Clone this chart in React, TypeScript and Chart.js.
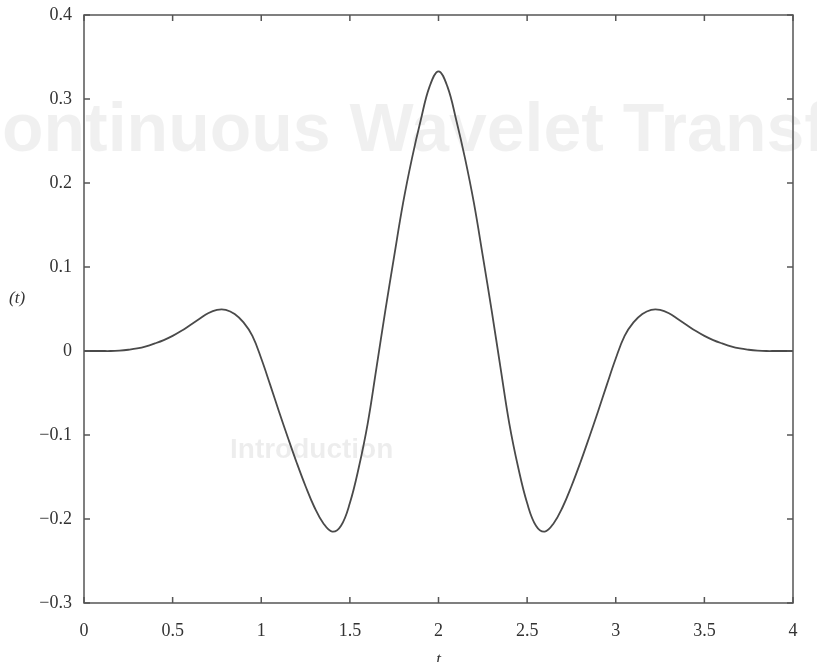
import React, { useEffect, useRef } from "react";
import { Chart, registerables } from "chart.js";

Chart.register(...registerables);

const tValues = [
  0, 0.05, 0.1, 0.15, 0.2, 0.25, 0.3, 0.35, 0.4, 0.45,
  0.5, 0.55, 0.6, 0.65, 0.7, 0.75, 0.8, 0.85, 0.9, 0.95,
  1.0, 1.05, 1.1, 1.15, 1.2, 1.25, 1.3, 1.35, 1.4, 1.45,
  1.5, 1.55, 1.6, 1.65, 1.7, 1.75, 1.8, 1.85, 1.9, 1.95,
  2.0, 2.05, 2.1, 2.15, 2.2, 2.25, 2.3, 2.35, 2.4, 2.45,
  2.5, 2.55, 2.6, 2.65, 2.7, 2.75, 2.8, 2.85, 2.9, 2.95,
  3.0, 3.05, 3.1, 3.15, 3.2, 3.25, 3.3, 3.35, 3.4, 3.45,
  3.5, 3.55, 3.6, 3.65, 3.7, 3.75, 3.8, 3.85, 3.9, 3.95,
  4.0,
];

const psiValues = [
  0, 0, 0, 0, 0.0005, 0.0015, 0.003, 0.0055, 0.009, 0.013,
  0.018, 0.024, 0.031, 0.038, 0.045, 0.049, 0.049, 0.044, 0.034, 0.018,
  -0.009, -0.04, -0.072, -0.103, -0.133, -0.161, -0.186, -0.205, -0.215, -0.208,
  -0.181, -0.139, -0.087, -0.02, 0.048, 0.113, 0.176, 0.229, 0.275, 0.315,
  0.333, 0.315, 0.275, 0.229, 0.176, 0.113, 0.048, -0.02, -0.087, -0.139,
  -0.181, -0.208, -0.215, -0.205, -0.186, -0.161, -0.133, -0.103, -0.072, -0.04,
  -0.009, 0.018, 0.034, 0.044, 0.049, 0.049, 0.045, 0.038, 0.031, 0.024,
  0.018, 0.013, 0.009, 0.0055, 0.003, 0.0015, 0.0005, 0, 0, 0,
  0,
];

const xTickValues = [0, 0.5, 1, 1.5, 2, 2.5, 3, 3.5, 4];
const yTickValues = [-0.3, -0.2, -0.1, 0, 0.1, 0.2, 0.3, 0.4];

const yAxisLabel = "(t)";
const xAxisLabel = "t";
const ghostTitle = "Continuous Wavelet Transform";
const ghostHeading = "Introduction";

const SERIF = "'Liberation Serif', 'DejaVu Serif', serif";
const SANS = "'Liberation Sans', Arial, sans-serif";

const fmtY = (v: number) => {
  if (Math.abs(v) < 1e-9) return "0";
  const s = Math.abs(v).toFixed(1);
  return v < 0 ? "\u2212" + s : s;
};
const fmtX = (v: number) => (Number.isInteger(v) ? String(v) : v.toFixed(1));

const ghostPlugin = {
  id: "ghost",
  beforeDraw(chart: any) {
    const ctx = chart.ctx;
    ctx.save();
    ctx.fillStyle = "rgba(0,0,0,0.06)";
    ctx.font = `bold 68px ${SANS}`;
    const cW = ctx.measureText("C").width;
    ctx.textBaseline = "middle";
    ctx.textAlign = "left";
    ctx.fillText(ghostTitle, 2 - cW, 132);
    ctx.fillStyle = "rgba(0,0,0,0.07)";
    ctx.font = `bold 28px ${SANS}`;
    ctx.fillText(ghostHeading, 230, 450);
    ctx.restore();
  },
};

const framePlugin = {
  id: "frame",
  afterDatasetsDraw(chart: any) {
    const { ctx, chartArea } = chart;
    const { left, right, top, bottom } = chartArea;
    const xs = chart.scales.x;
    const ys = chart.scales.y;
    const tl = 6;
    ctx.save();
    ctx.strokeStyle = "#555";
    ctx.lineWidth = 1.5;
    ctx.strokeRect(left, top, right - left, bottom - top);
    ctx.beginPath();
    xTickValues.forEach((v) => {
      const px = xs.getPixelForValue(v);
      ctx.moveTo(px, bottom);
      ctx.lineTo(px, bottom - tl);
      ctx.moveTo(px, top);
      ctx.lineTo(px, top + tl);
    });
    yTickValues.forEach((v) => {
      const py = ys.getPixelForValue(v);
      ctx.moveTo(left, py);
      ctx.lineTo(left + tl, py);
      ctx.moveTo(right, py);
      ctx.lineTo(right - tl, py);
    });
    ctx.stroke();

    ctx.fillStyle = "#333";
    ctx.font = `italic 17px ${SERIF}`;
    ctx.textAlign = "left";
    ctx.textBaseline = "middle";
    ctx.fillText(yAxisLabel, 9, ys.getPixelForValue(0.062));
    ctx.textAlign = "center";
    ctx.textBaseline = "top";
    ctx.fillText(xAxisLabel, xs.getPixelForValue(2), 651);
    ctx.restore();
  },
};

export default function App() {
  const ref = useRef<HTMLCanvasElement | null>(null);

  useEffect(() => {
    if (!ref.current) return;
    const points = tValues.map((t, i) => ({ x: t, y: psiValues[i] }));
    const chart = new Chart(ref.current, {
      type: "line",
      data: {
        datasets: [
          {
            data: points,
            borderColor: "#4a4a4a",
            borderWidth: 1.8,
            pointRadius: 0,
            fill: false,
            tension: 0.4,
          },
        ],
      },
      options: {
        responsive: false,
        animation: false,
        events: [],
        layout: { padding: { top: 15, right: 24, left: 0, bottom: 0 } },
        plugins: {
          legend: { display: false },
          tooltip: { enabled: false },
          title: { display: false },
        },
        scales: {
          x: {
            type: "linear",
            min: 0,
            max: 4,
            grid: { display: false, drawTicks: false },
            border: { display: false },
            afterBuildTicks: (s: any) => {
              s.ticks = xTickValues.map((v) => ({ value: v }));
            },
            afterFit: (s: any) => {
              s.height = 59;
              s.paddingLeft = 0;
              s.paddingRight = 0;
            },
            ticks: {
              padding: 17,
              maxRotation: 0,
              autoSkip: false,
              color: "#333",
              font: { family: SERIF, size: 18 },
              callback: (v: any) => fmtX(Number(v)),
            },
          },
          y: {
            type: "linear",
            min: -0.3,
            max: 0.4,
            grid: { display: false, drawTicks: false },
            border: { display: false },
            afterBuildTicks: (s: any) => {
              s.ticks = yTickValues.map((v) => ({ value: v }));
            },
            afterFit: (s: any) => {
              s.width = 84;
              s.paddingTop = 0;
              s.paddingBottom = 0;
            },
            ticks: {
              padding: 12,
              autoSkip: false,
              color: "#333",
              font: { family: SERIF, size: 18 },
              callback: (v: any) => fmtY(Number(v)),
            },
          },
        },
      },
      plugins: [ghostPlugin, framePlugin],
    } as any);
    return () => chart.destroy();
  }, []);

  return (
    <canvas
      ref={ref}
      width={817}
      height={662}
      style={{ position: "fixed", left: 0, top: 0, width: 817, height: 662, background: "#fff" }}
    />
  );
}
